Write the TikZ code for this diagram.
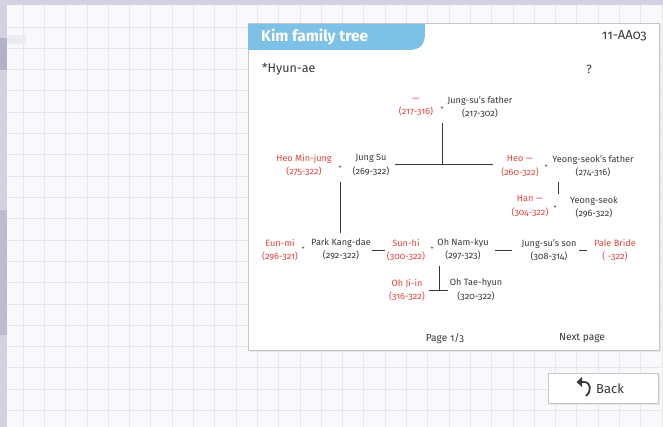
\documentclass[tikz,border=0pt]{standalone}
\usepackage{fontspec}
\setmainfont{Fira Sans}[Numbers=OldStyle]
\definecolor{bgc}{HTML}{F9F9FB}
\definecolor{gridc}{HTML}{E6E6EE}
\definecolor{lav}{HTML}{D2D2E2}
\definecolor{lavd}{HTML}{B2B2C6}
\definecolor{tabc}{HTML}{7EC1E6}
\definecolor{ink}{HTML}{383838}
\definecolor{redc}{HTML}{E5443C}
\definecolor{cardline}{HTML}{C6C6CA}
\begin{document}
\begin{tikzpicture}[x=1pt,y=-1pt,
  person/.style={align=center, font=\fontsize{9.1}{13.5}\selectfont, text=ink, inner sep=0pt},
  redp/.style={person, text=redc},
  plus/.style={font=\fontsize{7}{8}\selectfont, text=ink, inner sep=0pt},
  link/.style={draw=ink, line width=1pt},
  gridline/.style={draw=gridc, line width=0.8pt},
  label/.style={font=\fontsize{10.2}{12}\selectfont, text=ink, inner sep=0pt},
]
\useasboundingbox (0,0) rectangle (663,427);
% background
\fill[bgc] (0,0) rectangle (663,427);
\foreach \k in {0,...,30} {\draw[gridline] ({23+21.3*\k},5) -- ({23+21.3*\k},427);}
\foreach \k in {0,...,19} {\draw[gridline] (7,{27+21.3*\k}) -- (663,{27+21.3*\k});}
\fill[lav] (0,0) rectangle (663,5);
\fill[lav] (0,0) rectangle (7,427);
\fill[lavd] (0,38) rectangle (7,70);
\fill[lavd!70!lav] (0,210) rectangle (7,335);
\fill[lav!35!bgc] (7,35) rectangle (26,44);
% card
\fill[black!10] (250,25) rectangle (661,352);
\draw[cardline, fill=white] (248,23) rectangle (659,350);
\fill[tabc] (248,24) -- (425,24) -- (425,32) .. controls (425,46) and (420,50) .. (407,50) -- (248,50) -- cycle;
\node[anchor=west, font=\fontsize{15.5}{17}\selectfont\bfseries, text=white, inner sep=0pt] (title) at (261,37) {Kim family tree};
\node[anchor=east, font=\fontsize{13}{15}\selectfont, text=ink, inner sep=0pt] (code) at (647,36) {11-AA03};
\node[anchor=west, font=\fontsize{12.5}{14}\selectfont, text=ink, inner sep=0pt] (hyun) at (262,69) {*Hyun-ae};
\node[font=\fontsize{12}{14}\selectfont, text=ink, inner sep=0pt] (q) at (589,69) {?};
% people
\node[redp] (unk) at (416,107) {—\\(217-316)};
\node[plus] (p1) at (442,109) {+};
\node[person] (jsf) at (480,107) {Jung-su's father\\(217-302)};
\node[redp] (hmj) at (304,165) {Heo Min-jung\\(275-322)};
\node[plus] (p2) at (340,168) {+};
\node[person] (js) at (371,165) {Jung Su\\(269-322)};
\node[redp] (heo) at (520,166) {Heo —\\(260-322)};
\node[plus] (p3) at (546,167) {+};
\node[person] (ysf) at (593,166) {Yeong-seok's father\\(274-316)};
\node[redp] (han) at (530,206) {Han —\\(304-322)};
\node[plus] (p4) at (555,208) {+};
\node[person] (ys) at (594,207) {Yeong-seok\\(296-322)};
\node[redp] (eun) at (280,250) {Eun-mi\\(296-321)};
\node[plus] (p5) at (303,249) {+};
\node[person] (park) at (341,249) {Park Kang-dae\\(292-322)};
\node[redp] (sun) at (406,250) {Sun-hi\\(300-322)};
\node[plus] (p6) at (432,249) {+};
\node[person] (onk) at (463,249) {Oh Nam-kyu\\(297-323)};
\node[person] (jss) at (549,250) {Jung-su's son\\(308-314)};
\node[redp] (pale) at (615,250) {Pale Bride\\( -322)};
\node[redp] (oji) at (407,290) {Oh Ji-in\\(316-322)};
\node[person] (oth) at (476,290) {Oh Tae-hyun\\(320-322)};
% connectors
\coordinate (a1) at (442,123);
\coordinate (a2) at (442,165);
\coordinate (b1) at (395,165);
\coordinate (b2) at (493,165);
\coordinate (c1) at (340,182);
\coordinate (c2) at (340,233);
\coordinate (d1) at (558,182);
\coordinate (d2) at (558,194);
\coordinate (e1) at (372,251);
\coordinate (e2) at (385,251);
\coordinate (f1) at (495,251);
\coordinate (f2) at (512,251);
\coordinate (g1) at (579,251);
\coordinate (g2) at (587,251);
\coordinate (h1) at (439,266);
\coordinate (h2) at (439,290);
\coordinate (h3) at (429,290);
\coordinate (h4) at (448,290);
\draw[link] (a1) -- (a2);
\draw[link] (b1) -- (b2);
\draw[link] (c1) -- (c2);
\draw[link] (d1) -- (d2);
\draw[link] (e1) -- (e2);
\draw[link] (f1) -- (f2);
\draw[link] (g1) -- (g2);
\draw[link] (h1) -- (h2);
\draw[link] (h3) -- (h4);
% footer
\node[label] (page) at (445,338) {Page 1/3};
\node[label] (next) at (582,338) {Next page};
% back button
\fill[black!10] (550,375) rectangle (660,405);
\draw[cardline, fill=white] (548,373) rectangle (658,403);
\fill[ink] (576.5,382) -- (582,377) -- (582,387) -- cycle;
\draw[ink, line width=1.8pt] (581,382) -- (584,382) .. controls (591,382) and (592,391) .. (586,396);
\node[anchor=west, font=\fontsize{13}{15}\selectfont, text=ink, inner sep=0pt] (back) at (596,389) {Back};
\end{tikzpicture}
\end{document}
